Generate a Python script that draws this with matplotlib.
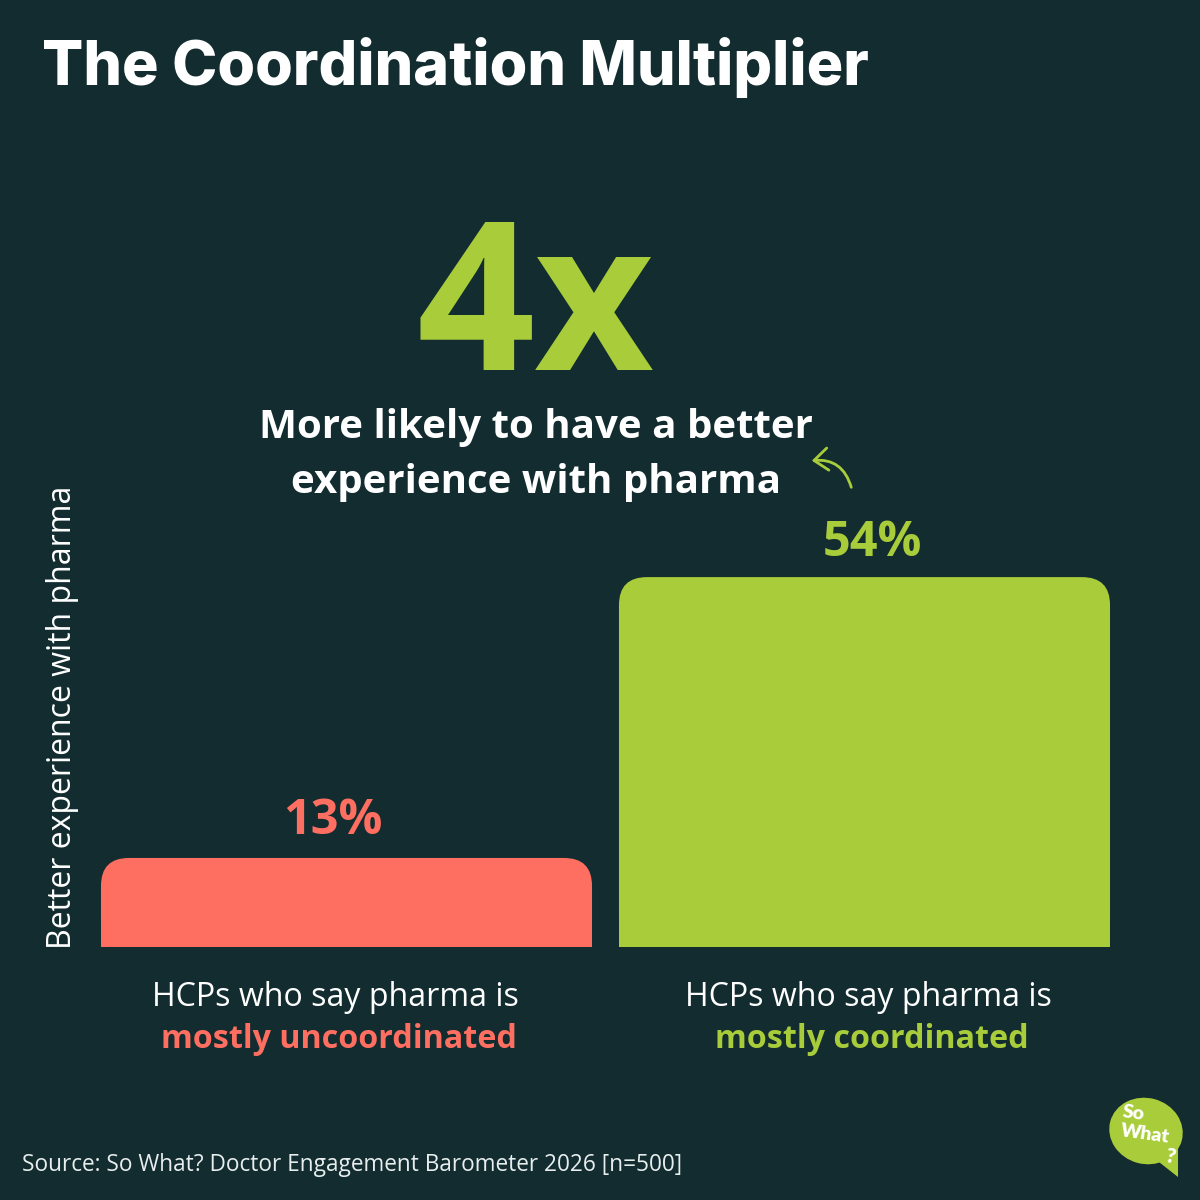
import matplotlib.pyplot as plt
from matplotlib.patches import FancyBboxPatch, FancyArrowPatch, Ellipse, Polygon

# data
categories = ["mostly uncoordinated", "mostly coordinated"]
values = [13, 54]
value_labels = ["13%", "54%"]
multiplier = "4x"

bg = "#122c30"
red = "#ff6f61"
green = "#a8cc3a"
white = "#ffffff"

W = 1200.0
def fx(px):
    return px / W
def fy(py):
    return 1 - py / W

fig = plt.figure(figsize=(12, 12), dpi=100, facecolor=bg)

# axes placed so 1 x-unit = 518 px and 1 % = 6.85 px
ax = fig.add_axes([87.5 / W, 253 / W, 1036 / W, 60 * 6.85 / W])
ax.set_facecolor(bg)
ax.set_xlim(-0.5, 1.5)
ax.set_ylim(0, 60)
for s in ax.spines.values():
    s.set_visible(False)
ax.set_xticks([])
ax.set_yticks([])

colors = [red, green]
x = [0, 1]
bw = 0.948
rx = 28 / 518.0
ry = 28 / 6.85

# square lower part, rounded top part
ax.bar(x, [v - ry for v in values], width=bw, color=colors, linewidth=0)
for xi, v, c in zip(x, values, colors):
    ax.add_patch(FancyBboxPatch((xi - bw / 2, 0), bw, v,
                                boxstyle="round,pad=0,rounding_size=%f" % rx,
                                mutation_aspect=ry / rx,
                                facecolor=c, edgecolor="none"))

# value labels (small nudges as in the original)
nudge = [-0.026, 0.015]
for xi, v, lab, c, n in zip(x, values, value_labels, colors, nudge):
    ax.text(xi + n, v + 1.8 if v < 20 else v + 1.4, lab, ha="center", va="bottom",
            color=c, fontsize=35, fontweight="bold", family="Open Sans")

ax.set_ylabel("Better experience with pharma", color=white, fontsize=23,
              family="Open Sans")
ax.yaxis.set_label_coords(-0.008, 0.56)

# category labels
for cx, bx, cat, c in zip([335, 868], [339, 872], categories, colors):
    fig.text(fx(cx), fy(997), "HCPs who say pharma is", ha="center", va="center",
             color=white, fontsize=23.1, family="Open Sans")
    fig.text(fx(bx), fy(1040), cat, ha="center", va="center",
             color=c, fontsize=23.2, fontweight="bold", family="Open Sans")

# title
fig.text(fx(42), fy(68), "The Coordination Multiplier", ha="left", va="center",
         color=white, fontsize=43.9, fontweight="heavy", family="Inter")

# big number + caption
fig.text(fx(535), fy(316), multiplier, ha="center", va="center",
         color=green, fontsize=149, fontweight="bold", family="Open Sans")
fig.text(fx(536), fy(455), "More likely to have a better\nexperience with pharma",
         ha="center", va="center", color=white, fontsize=29, fontweight="bold",
         family="Open Sans", linespacing=1.55)

fig.patches.append(FancyArrowPatch(
    (fx(852), fy(490)), (fx(809), fy(461)), transform=fig.transFigure,
    connectionstyle="arc3,rad=0.45", arrowstyle="->,head_length=0.5,head_width=0.4",
    color=green, linewidth=2.0, mutation_scale=20))

# source
fig.text(fx(22), fy(1165), "Source: So What? Doctor Engagement Barometer 2026 [n=500]",
         ha="left", va="center", color="#e8eeee", fontsize=16.3, family="Open Sans")

# logo
fig.patches.append(Ellipse((fx(1146), fy(1131)), 74 / W, 66 / W, angle=-15,
                           transform=fig.transFigure, facecolor=green, edgecolor="none"))
fig.patches.append(Polygon([(fx(1150), fy(1155)), (fx(1178), fy(1140)), (fx(1178), fy(1177))],
                           closed=True, transform=fig.transFigure,
                           facecolor=green, edgecolor="none"))
fig.text(fx(1133), fy(1113), "So", ha="center", va="center", color=white,
         fontsize=14, fontweight="heavy", family="Lato", rotation=-8)
fig.text(fx(1145), fy(1134), "What", ha="center", va="center", color=white,
         fontsize=14, fontweight="heavy", family="Lato", rotation=-8)
fig.text(fx(1170), fy(1156), "?", ha="center", va="center", color=white,
         fontsize=15, fontweight="heavy", family="Lato", rotation=-10)

fig.savefig("out.png", dpi=100, facecolor=bg)
